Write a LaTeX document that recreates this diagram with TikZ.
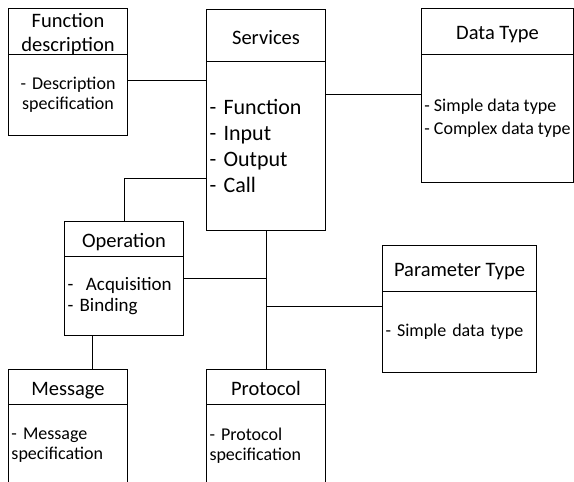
\documentclass[tikz,border=0pt]{standalone}
\usepackage{fontspec}
\setmainfont{Carlito}
\begin{document}
\begin{tikzpicture}[x=1pt,y=-1pt,line width=1pt,
  hdr/.style={draw, rectangle, anchor=north west, inner sep=0pt,
    align=center, font=\fontsize{20.5}{24}\selectfont,
    text height=16pt, text depth=0pt},
  body/.style={draw, rectangle, anchor=north west, inner xsep=3pt,
    inner ysep=0pt, align=left},
  small/.style={font=\fontsize{18}{20}\selectfont},
  link/.style={draw, line width=1pt}]
\clip (0,0) rectangle (574,482);

% Function description
\node[hdr, minimum width=119, minimum height=46, text width=113,
  text height=16pt, text depth=24pt] (fdh) at (8,8) {Function\\description};
\node[body, small, text width=113, minimum height=81, align=center] (fdb) at (8,54)
  {- Description\\specification};

% Services
\node[hdr, minimum width=119, minimum height=52, text height=17pt] (svh) at (206,9) {Services};
\node[body, text width=113, minimum height=169,
  font=\fontsize{22}{25.7}\selectfont] (svb) at (206,61)
  {- Function\\- Input\\- Output\\- Call};

% Data Type
\node[hdr, minimum width=152, minimum height=46] (dth) at (421,8) {Data Type};
\node[body, font=\fontsize{18}{23}\selectfont, inner xsep=2pt, minimum width=152,
  minimum height=128] (dtb) at (421,54) {- Simple data type\\- Complex data type};

% Parameter Type
\node[hdr, minimum width=154, minimum height=46] (pth) at (382,245) {Parameter Type};
\node[body, font=\fontsize{18}{23}\selectfont, text width=148, minimum height=81]
  (ptb) at (382,291) {- Simple data type};

% Operation
\node[hdr, minimum width=119, minimum height=35] (oph) at (64,221) {Operation};
\node[body, font=\fontsize{19}{21.5}\selectfont, text width=113, minimum height=79]
  (opb) at (64,256) {-\ \ Acquisition\\- Binding};

% Message
\node[hdr, minimum width=119, minimum height=35] (msh) at (8,369) {Message};
\node[body, small, text width=113, minimum height=82] (msb) at (8,404)
  {- Message\\specification};

% Protocol
\node[hdr, minimum width=119, minimum height=35] (prh) at (206,369) {Protocol};
\node[body, small, text width=113, minimum height=82] (prb) at (206,404)
  {- Protocol\\specification};

% junction points on the central trunk
\coordinate (jop) at (svb.south |- 0,278);
\coordinate (jpt) at (svb.south |- 0,306);

% connectors
\draw[link] (fdb.east |- 0,80) -- (svb.west |- 0,80);
\draw[link] (svb.east |- 0,94) -- (dtb.west |- 0,94);
\draw[link] (oph.north) |- (svb.west |- 0,178);
\draw[link] (svb.south) -- (prh.north);
\draw[link] (opb.east |- jop) -- (jop);
\draw[link] (jpt) -- (ptb.west |- jpt);
\draw[link] (opb.south -| 92,0) -- (msh.north -| 92,0);
\end{tikzpicture}
\end{document}
